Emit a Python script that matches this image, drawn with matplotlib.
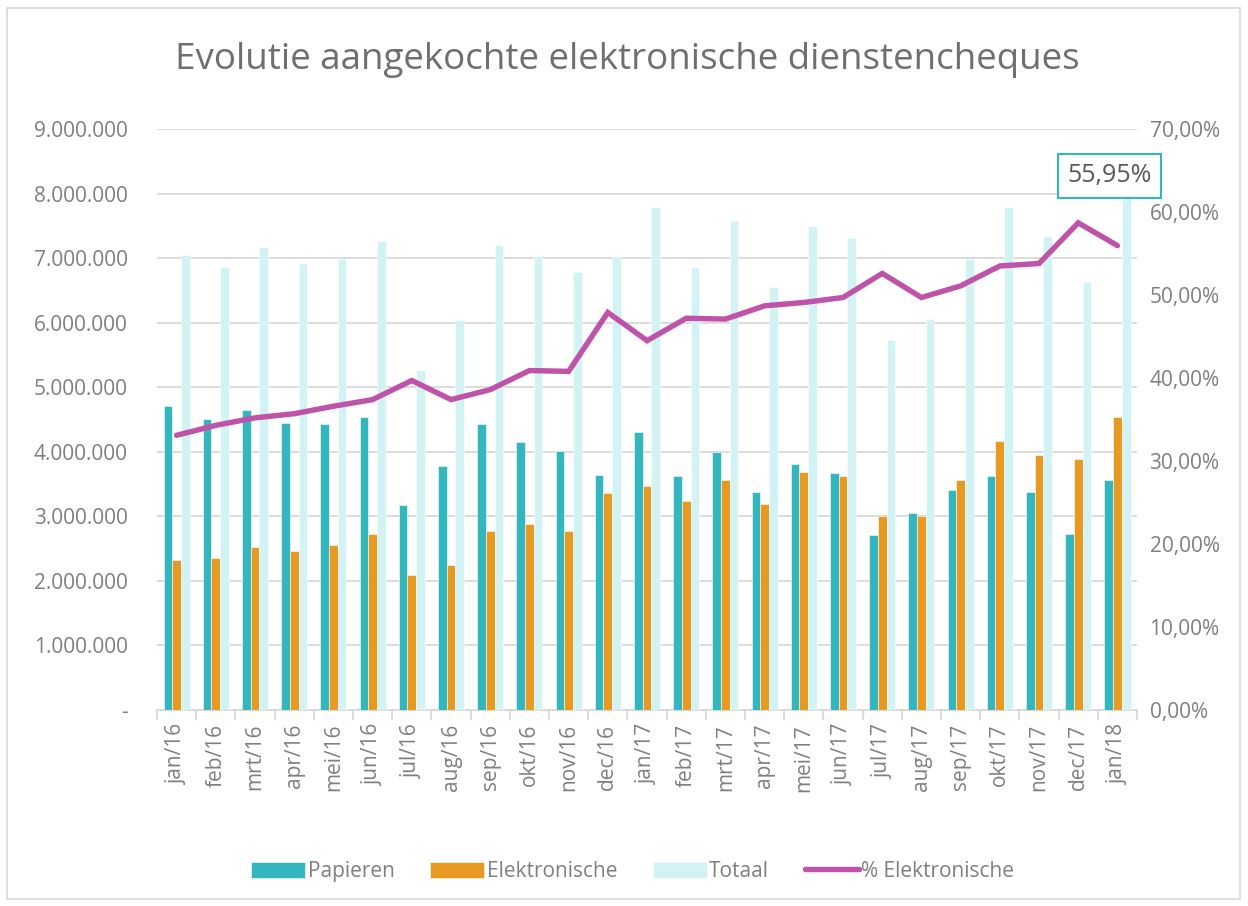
import matplotlib.pyplot as plt
import numpy as np
from matplotlib.patches import Rectangle
from matplotlib.ticker import FuncFormatter

plt.rcParams['font.family'] = ['Open Sans', 'DejaVu Sans']

months = ['jan/16', 'feb/16', 'mrt/16', 'apr/16', 'mei/16', 'jun/16', 'jul/16', 'aug/16',
          'sep/16', 'okt/16', 'nov/16', 'dec/16', 'jan/17', 'feb/17', 'mrt/17', 'apr/17',
          'mei/17', 'jun/17', 'jul/17', 'aug/17', 'sep/17', 'okt/17', 'nov/17', 'dec/17', 'jan/18']
# in miljoenen
papieren = [4.71, 4.51, 4.64, 4.45, 4.43, 4.54, 3.18, 3.78, 4.43, 4.15, 4.02, 3.64, 4.30,
            3.62, 4.00, 3.37, 3.81, 3.67, 2.71, 3.05, 3.41, 3.62, 3.38, 2.73, 3.57]
elektronische = [2.33, 2.35, 2.53, 2.47, 2.55, 2.72, 2.09, 2.25, 2.78, 2.88, 2.78, 3.36, 3.47,
                 3.24, 3.57, 3.19, 3.68, 3.63, 3.01, 3.01, 3.57, 4.17, 3.95, 3.89, 4.54]
totaal = [7.05, 6.87, 7.18, 6.93, 6.99, 7.27, 5.27, 6.04, 7.21, 7.04, 6.79, 7.02, 7.79,
          6.86, 7.58, 6.56, 7.49, 7.31, 5.73, 6.06, 6.99, 7.79, 7.34, 6.63, 8.12]
pct_elek = [33.1, 34.3, 35.2, 35.7, 36.6, 37.4, 39.7, 37.4, 38.6, 40.9, 40.8, 47.9, 44.5,
            47.2, 47.1, 48.7, 49.1, 49.7, 52.6, 49.7, 51.1, 53.5, 53.8, 58.7, 55.95]

teal = '#33b6bd'
orange = '#e69a22'
light = '#d3f2f4'
magenta = '#bf52a9'
grey = '#7f7f7f'
gridc = '#d9d9d9'

fig = plt.figure(figsize=(12.48, 9.06), dpi=100)
ax = fig.add_axes([0.1258, 0.2163, 0.7853, 0.6413])
ax2 = ax.twinx()

x = np.arange(len(months))
w = 0.222
ax.bar(x - w, np.array(papieren) * 1e6, w, color=teal, edgecolor='white', linewidth=0.4,
       label='Papieren', zorder=3)
ax.bar(x, np.array(elektronische) * 1e6, w, color=orange, edgecolor='white', linewidth=0.4,
       label='Elektronische', zorder=3)
ax.bar(x + w, np.array(totaal) * 1e6, w, color=light, edgecolor='white', linewidth=0.4,
       label='Totaal', zorder=3)
line, = ax2.plot(x, pct_elek, color=magenta, lw=3.9, solid_capstyle='round',
                 solid_joinstyle='miter', label='% Elektronische')

ax.set_xlim(-0.5, len(months) - 0.5)
ax.set_ylim(0, 9e6)
ax.set_yticks(np.arange(0, 9.1e6, 1e6))
ax.yaxis.set_major_formatter(FuncFormatter(
    lambda v, p: '-' if v == 0 else f'{int(v):,}'.replace(',', '.')))
ax2.set_ylim(0, 70)
ax2.set_yticks(np.arange(0, 71, 10))
ax2.yaxis.set_major_formatter(FuncFormatter(lambda v, p: f'{v:.2f}%'.replace('.', ',')))

ax.grid(axis='y', color=gridc, lw=1.3, zorder=0)
ax.set_axisbelow(True)
for a in (ax, ax2):
    for s in ('top', 'right', 'left'):
        a.spines[s].set_visible(False)
ax2.spines['bottom'].set_visible(False)
ax.spines['bottom'].set_color(gridc)
ax.spines['bottom'].set_linewidth(1.3)

ax.set_xticks(x)
ax.set_xticklabels(months, rotation=90, fontsize=15, color=grey)
ax.tick_params(axis='x', length=0, pad=10)
ax.set_xticks(np.arange(-0.5, len(months)), minor=True)
ax.tick_params(axis='x', which='minor', length=7, color=gridc, width=1.3)
ax.tick_params(axis='y', length=0, labelsize=15, labelcolor=grey, pad=21)
ax2.tick_params(axis='y', length=0, labelsize=15, labelcolor=grey, pad=9)

ax2.annotate('55,95%', xy=(x[-1], pct_elek[-1]), xytext=(-8, 70), textcoords='offset pixels',
             ha='center', va='center', fontsize=18, color='#595959',
             bbox=dict(boxstyle='square,pad=0.38', fc='white', ec=teal, lw=1.5))

fig.text(0.503, 1 - 69 / 906, 'Evolutie aangekochte elektronische dienstencheques',
         ha='center', va='baseline', fontsize=26.5, color='#6f6f6f')

handles = [h for h in ax.get_legend_handles_labels()[0]] + [line]
fig.legend(handles=handles, labels=['Papieren', 'Elektronische', 'Totaal', '% Elektronische'],
           loc='center', bbox_to_anchor=(0.507, 0.038), ncol=4, frameon=False,
           fontsize=15, labelcolor=grey, handlelength=2.6, handleheight=0.85,
           columnspacing=1.7, handletextpad=0.12)

fig.add_artist(Rectangle((7 / 1248, 1 - 899 / 906), 1233 / 1248, 891 / 906,
                         transform=fig.transFigure, fill=False, ec=gridc, lw=1.2))

fig.savefig('out.png', dpi=100)
